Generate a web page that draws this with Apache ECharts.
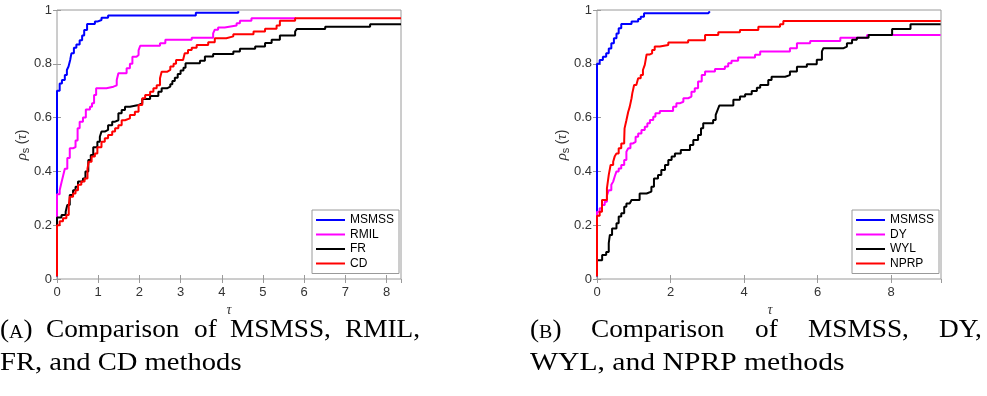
<!DOCTYPE html>
<html>
<head>
<meta charset="utf-8">
<script src="https://cdn.jsdelivr.net/npm/echarts@6/dist/echarts.min.js"></script>
<style>
  html, body { margin: 0; padding: 0; background: #fff; }
  #chart { width: 987px; height: 396px; }
</style>
</head>
<body>
<div id="chart"></div>
<script>
// performance profiles, [tau, rho] step points (value holds until next point)
const legendA = ["MSMSS", "RMIL", "FR", "CD"];
const legendB = ["MSMSS", "DY", "WYL", "NPRP"];
const ticksY = [0, 0.2, 0.4, 0.6, 0.8, 1];

const msmssA = [[0,0.01],[0,0.70],[0.065,0.727],[0.12,0.74],[0.19,0.758],[0.24,0.777],[0.28,0.79],[0.32,0.814],[0.35,0.839],[0.41,0.86],[0.47,0.872],[0.55,0.888],[0.61,0.905],[0.66,0.926],[0.73,0.948],[0.92,0.957],[0.98,0.963],[1.08,0.971],[1.24,0.98],[3.37,0.99],[4.40,0.995]];
const rmilA = [[0,0.01],[0,0.315],[0.065,0.33],[0.11,0.36],[0.15,0.385],[0.19,0.41],[0.25,0.45],[0.31,0.486],[0.39,0.49],[0.45,0.515],[0.50,0.56],[0.55,0.585],[0.63,0.60],[0.70,0.63],[0.80,0.64],[0.85,0.653],[0.90,0.684],[0.95,0.709],[1.20,0.715],[1.37,0.72],[1.45,0.74],[1.49,0.765],[1.69,0.783],[1.77,0.80],[1.83,0.826],[1.93,0.833],[1.98,0.85],[2.02,0.867],[2.50,0.876],[2.63,0.889],[3.27,0.897],[3.79,0.913],[3.83,0.927],[3.91,0.935],[4.07,0.942],[4.36,0.951],[4.44,0.96],[4.72,0.969],[5.8,0.969]];
const frA = [[0,0.01],[0,0.229],[0.11,0.238],[0.21,0.25],[0.25,0.275],[0.31,0.312],[0.39,0.33],[0.45,0.343],[0.51,0.362],[0.63,0.374],[0.69,0.40],[0.76,0.442],[0.82,0.461],[0.88,0.49],[0.98,0.51],[1.04,0.529],[1.08,0.548],[1.16,0.554],[1.24,0.572],[1.34,0.585],[1.41,0.59],[1.49,0.616],[1.57,0.628],[1.65,0.64],[1.77,0.647],[1.98,0.653],[2.07,0.669],[2.26,0.68],[2.46,0.696],[2.54,0.709],[2.67,0.715],[2.75,0.724],[2.80,0.736],[2.86,0.748],[2.93,0.762],[3.00,0.775],[3.07,0.785],[3.12,0.802],[3.47,0.811],[3.59,0.827],[3.79,0.836],[4.28,0.846],[4.44,0.856],[4.81,0.864],[5.05,0.877],[5.21,0.889],[5.41,0.905],[5.78,0.92],[5.82,0.929],[6.51,0.938],[7.6,0.947],[8.35,0.947]];
const cdA = [[0,0.01],[0,0.2],[0.065,0.215],[0.146,0.226],[0.228,0.238],[0.285,0.275],[0.31,0.306],[0.39,0.318],[0.45,0.33],[0.51,0.35],[0.59,0.362],[0.67,0.374],[0.74,0.41],[0.77,0.436],[0.84,0.455],[0.92,0.467],[0.98,0.49],[1.08,0.51],[1.16,0.523],[1.24,0.535],[1.34,0.548],[1.41,0.56],[1.49,0.572],[1.57,0.59],[1.65,0.597],[1.77,0.61],[1.89,0.622],[1.98,0.647],[2.07,0.672],[2.14,0.684],[2.26,0.696],[2.34,0.709],[2.42,0.72],[2.50,0.746],[2.54,0.77],[2.67,0.777],[2.75,0.79],[2.83,0.80],[2.89,0.814],[3.06,0.821],[3.10,0.839],[3.18,0.851],[3.27,0.86],[3.39,0.87],[3.67,0.88],[3.83,0.895],[4.11,0.902],[4.28,0.91],[4.77,0.92],[5.05,0.93],[5.33,0.942],[5.41,0.96],[5.78,0.969],[8.35,0.969]];

const msmssB = [[0,0.01],[0,0.80],[0.073,0.814],[0.16,0.826],[0.25,0.839],[0.32,0.857],[0.39,0.876],[0.46,0.895],[0.53,0.913],[0.59,0.932],[0.66,0.948],[0.94,0.957],[1.12,0.967],[1.19,0.975],[1.28,0.988],[3.03,0.995],[3.07,0.995]];
const dyB = [[0,0.01],[0,0.25],[0.073,0.263],[0.136,0.275],[0.21,0.287],[0.27,0.31],[0.32,0.33],[0.39,0.35],[0.44,0.362],[0.48,0.38],[0.53,0.40],[0.59,0.411],[0.66,0.424],[0.74,0.442],[0.80,0.473],[0.85,0.486],[0.91,0.504],[0.98,0.51],[1.05,0.529],[1.12,0.541],[1.21,0.554],[1.30,0.566],[1.37,0.579],[1.44,0.591],[1.53,0.603],[1.59,0.616],[1.71,0.625],[2.07,0.64],[2.16,0.653],[2.25,0.659],[2.35,0.672],[2.48,0.678],[2.57,0.696],[2.66,0.709],[2.75,0.734],[2.85,0.758],[2.94,0.771],[3.21,0.781],[3.48,0.79],[3.57,0.802],[3.66,0.811],[3.84,0.823],[4.3,0.834],[4.44,0.846],[5.25,0.858],[5.44,0.876],[5.8,0.885],[6.62,0.897],[7.35,0.907],[9.35,0.907]];
const wylB = [[0,0.01],[0,0.07],[0.14,0.089],[0.25,0.10],[0.32,0.133],[0.35,0.164],[0.41,0.188],[0.53,0.207],[0.59,0.232],[0.66,0.244],[0.74,0.269],[0.80,0.281],[0.89,0.287],[0.94,0.294],[1.16,0.318],[1.35,0.325],[1.48,0.343],[1.55,0.374],[1.66,0.387],[1.75,0.405],[1.85,0.424],[1.94,0.442],[2.03,0.455],[2.12,0.467],[2.28,0.48],[2.53,0.498],[2.62,0.517],[2.75,0.535],[2.83,0.56],[2.89,0.579],[3.16,0.591],[3.23,0.61],[3.28,0.628],[3.33,0.645],[3.71,0.666],[3.89,0.678],[4.03,0.687],[4.21,0.699],[4.35,0.711],[4.44,0.721],[4.66,0.74],[4.75,0.752],[5.12,0.758],[5.25,0.771],[5.44,0.789],[5.71,0.798],[5.98,0.815],[6.12,0.846],[6.16,0.858],[6.71,0.864],[6.8,0.876],[6.94,0.889],[7.07,0.897],[7.39,0.907],[8.03,0.929],[8.53,0.947],[9.35,0.947]];
const nprpB = [[0,0.01],[0,0.235],[0.073,0.25],[0.136,0.294],[0.27,0.337],[0.32,0.387],[0.37,0.424],[0.44,0.436],[0.48,0.455],[0.53,0.467],[0.59,0.486],[0.66,0.504],[0.74,0.517],[0.75,0.56],[0.80,0.59],[0.85,0.622],[0.89,0.64],[0.94,0.672],[0.96,0.69],[1.01,0.721],[1.07,0.727],[1.12,0.746],[1.19,0.758],[1.25,0.777],[1.30,0.796],[1.35,0.835],[1.44,0.839],[1.50,0.851],[1.57,0.864],[1.71,0.87],[1.94,0.879],[2.48,0.888],[2.94,0.907],[3.3,0.917],[3.89,0.926],[4.39,0.938],[4.98,0.947],[5.07,0.959],[9.35,0.959]];

const colors = { MSMSS: "#0000ff", RMIL: "#ff00ff", DY: "#ff00ff", FR: "#000000", WYL: "#000000", CD: "#ff0000", NPRP: "#ff0000" };

const frameColor = "#9a9a9a";
const sans = "'Liberation Sans', Arial, sans-serif";
const serif = "'Liberation Serif', 'Times New Roman', serif";

const myChart = echarts.init(document.getElementById("chart"), null, { renderer: "canvas" });

function xAxes(gi, max, interval) {
  const base = {
    gridIndex: gi, type: "value", min: 0, max: max, interval: interval,
    axisLine: { show: false },
    axisTick: { inside: true, length: 4, lineStyle: { color: frameColor } },
    splitLine: { show: false },
  };
  return [
    { ...base, position: "bottom",
      axisLabel: { showMaxLabel: false, margin: 7, color: "#333", fontSize: 13, fontFamily: sans } },
    { ...base, position: "top", axisLabel: { show: false } },
  ];
}
function yAxes(gi) {
  const base = {
    gridIndex: gi, type: "value", min: ticksY[0], max: ticksY[ticksY.length - 1], interval: 0.2,
    axisLine: { show: false },
    axisTick: { inside: true, length: 4, lineStyle: { color: frameColor } },
    splitLine: { show: false },
  };
  return [
    { ...base, position: "left",
      axisLabel: { margin: 5, color: "#333", fontSize: 13, fontFamily: sans } },
    { ...base, position: "right", axisLabel: { show: false } },
  ];
}
function line(name, data, gi) {
  return {
    name: name, type: "line", step: "end", symbol: "none",
    xAxisIndex: gi * 2, yAxisIndex: gi * 2,
    data: data,
    lineStyle: { width: 2, color: colors[name] },
    itemStyle: { color: colors[name] },
    z: 3,
  };
}
function legend(data, left) {
  return {
    data: data, orient: "vertical", left: left, top: 210,
    icon: "rect", itemWidth: 29, itemHeight: 2, itemGap: 0.5,
    padding: [3, 5, 3, 4],
    backgroundColor: "#fff", borderColor: frameColor, borderWidth: 1,
    selectedMode: false,
    textStyle: { fontSize: 12, lineHeight: 14, color: "#000", fontFamily: sans },
  };
}
function yTitle(x) {
  return {
    type: "text", x: x, y: 145, rotation: Math.PI / 2,
    style: {
      text: "{r|ρ}{s|s} {p|(}{t|τ}{p|)}",
      align: "center", verticalAlign: "middle", fill: "#333",
      rich: {
        r: { fontSize: 15, fontStyle: "italic", fontFamily: serif, fill: "#333" },
        s: { fontSize: 11, fontFamily: sans, padding: [7, 0, 0, 0], fill: "#333" },
        p: { fontSize: 14, fontFamily: sans, fill: "#333" },
        t: { fontSize: 15, fontStyle: "italic", fontFamily: serif, fill: "#333" },
      },
    },
  };
}
function xTitle(x) {
  return {
    type: "text", x: x, y: 310,
    style: { text: "τ", font: "italic 14px " + serif, fill: "#333", align: "center", verticalAlign: "middle" },
  };
}
// caption words are stretched a little to approach Computer Modern widths
function word(text, x, y, sx) {
  return {
    type: "text", x: x, y: y, scaleX: sx || 1.05,
    style: { text: text, font: "26px " + serif, fill: "#000", align: "left", verticalAlign: "middle" },
  };
}
function label(letter, x, y) {
  return {
    type: "text", x: x, y: y, scaleX: 1.05,
    style: {
      text: "{p|(}{c|" + letter + "}{p|)}", align: "left", verticalAlign: "middle",
      rich: {
        p: { fontSize: 26, fontFamily: serif, fill: "#000", verticalAlign: "bottom" },
        c: { fontSize: 19, fontFamily: serif, fill: "#000", verticalAlign: "bottom" },
      },
    },
  };
}

const option = {
  animation: false,
  backgroundColor: "#fff",
  grid: [
    { left: 57, top: 10, width: 344, height: 269, show: true, borderColor: frameColor, borderWidth: 1, backgroundColor: "#fff" },
    { left: 597, top: 10, width: 344, height: 269, show: true, borderColor: frameColor, borderWidth: 1, backgroundColor: "#fff" },
  ],
  xAxis: [...xAxes(0, 8.35, 1), ...xAxes(1, 9.36, 2)],
  yAxis: [...yAxes(0), ...yAxes(1)],
  legend: [legend(legendA, 312), legend(legendB, 852)],
  series: [
    line("MSMSS", msmssA, 0), line("RMIL", rmilA, 0), line("FR", frA, 0), line("CD", cdA, 0),
    line("MSMSS", msmssB, 1), line("DY", dyB, 1), line("WYL", wylB, 1), line("NPRP", nprpB, 1),
  ],
  graphic: [
    yTitle(22), yTitle(562), xTitle(229), xTitle(770),
    label("A", 0, 330), word("Comparison", 46, 330), word("of", 194, 330), word("MSMSS,", 230, 330), word("RMIL,", 345, 330),
    word("FR, and CD methods", 0, 363, 1.1),
    label("B", 530, 330), word("Comparison", 591, 330), word("of", 755, 330), word("MSMSS,", 808, 330), word("DY,", 939, 330),
    word("WYL, and NPRP methods", 530, 363, 1.14),
  ],
};
myChart.setOption(option);
</script>
</body>
</html>
